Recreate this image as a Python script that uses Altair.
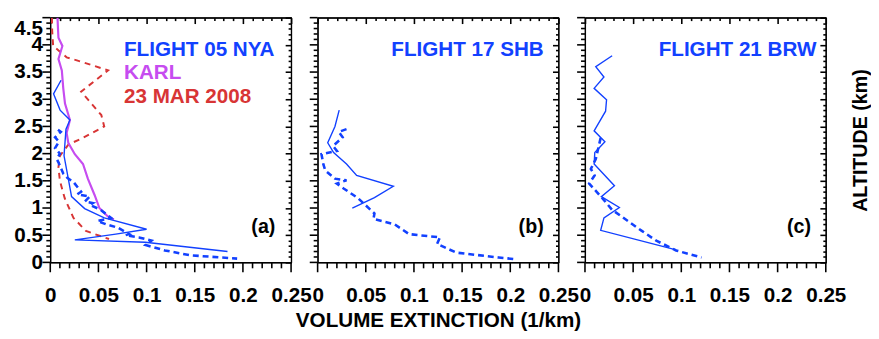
import altair as alt
import pandas as pd

# ---------------- data ----------------
# Panel (a) FLIGHT 05 NYA
a_red_ext = [0.0017, 0.002, 0.003, 0.017, 0.034, 0.060, 0.032, 0.053, 0.056, 0.034, 0.019, 0.010, 0.0085, 0.010, 0.015, 0.024, 0.037, 0.051, 0.061]
a_red_alt = [4.5, 4.25, 3.98, 3.77, 3.68, 3.53, 3.14, 2.71, 2.50, 2.29, 2.17, 1.96, 1.75, 1.5, 1.18, 0.82, 0.58, 0.49, 0.43]

a_karl_ext = [0.0075, 0.0080, 0.0085, 0.0126, 0.0085, 0.012, 0.0135, 0.0153, 0.0204, 0.017, 0.0187, 0.0255, 0.034, 0.039, 0.046, 0.051, 0.0595, 0.066]
a_karl_alt = [4.5, 4.3, 4.13, 3.98, 3.74, 3.53, 3.2, 2.92, 2.62, 2.38, 2.2, 1.99, 1.81, 1.54, 1.24, 1.0, 0.85, 0.79]

a_solid_ext = [0.0112, 0.0034, 0.0102, 0.0204, 0.0163, 0.0143, 0.0187, 0.0221, 0.0357, 0.0561, 0.100, 0.068, 0.0255, 0.0986, 0.184]
a_solid_alt = [3.35, 3.10, 2.80, 2.62, 2.45, 1.96, 1.54, 1.21, 0.99, 0.82, 0.61, 0.52, 0.415, 0.37, 0.20]

a_dash_ext = [0.008, 0.011, 0.005, 0.009, 0.005, 0.010, 0.0068, 0.0085, 0.0136, 0.018, 0.024, 0.032, 0.028, 0.041, 0.036, 0.044, 0.041, 0.052, 0.063, 0.049, 0.058, 0.070, 0.082, 0.078, 0.092, 0.105, 0.099, 0.119, 0.146, 0.194]
a_dash_alt = [2.44, 2.40, 2.30, 2.22, 2.10, 2.00, 1.90, 1.84, 1.63, 1.55, 1.48, 1.30, 1.25, 1.21, 1.12, 1.09, 1.06, 0.97, 0.82, 0.76, 0.70, 0.64, 0.52, 0.50, 0.46, 0.40, 0.32, 0.22, 0.13, 0.07]

# Panel (b) FLIGHT 17 SHB
b_solid_ext = [0.0224, 0.018, 0.0105, 0.0166, 0.030, 0.0405, 0.0786, 0.059, 0.036]
b_solid_alt = [2.8, 2.5, 2.2, 2.02, 1.81, 1.6, 1.4, 1.19, 1.0]
b_dash_ext = [0.030, 0.022, 0.026, 0.016, 0.020, 0.004, 0.006, 0.008, 0.018, 0.030, 0.020, 0.027, 0.042, 0.059, 0.058, 0.080, 0.095, 0.127, 0.124, 0.144, 0.188, 0.205]
b_dash_alt = [2.45, 2.40, 2.30, 2.14, 2.05, 1.99, 1.80, 1.69, 1.54, 1.51, 1.45, 1.36, 1.18, 0.90, 0.80, 0.70, 0.52, 0.46, 0.34, 0.18, 0.09, 0.06]

# Panel (c) FLIGHT 21 BRW
c_solid_ext = [0.0282, 0.0112, 0.0197, 0.0095, 0.0224, 0.0214, 0.0095, 0.0207, 0.0102, 0.0095, 0.0306, 0.017, 0.0357, 0.0197, 0.0163, 0.0776, 0.0946]
c_solid_alt = [3.8, 3.6, 3.41, 3.2, 2.99, 2.78, 2.42, 2.22, 2.02, 1.81, 1.41, 1.21, 1.01, 0.82, 0.59, 0.31, 0.23]
c_dash_ext = [0.0163, 0.0112, 0.0061, 0.010, 0.0044, 0.018, 0.028, 0.047, 0.059, 0.074, 0.0946, 0.121]
c_dash_alt = [2.29, 1.90, 1.72, 1.60, 1.45, 1.18, 0.97, 0.73, 0.58, 0.40, 0.22, 0.09]

panel_titles = ["FLIGHT 05 NYA", "FLIGHT 17 SHB", "FLIGHT 21 BRW"]
panel_tags = ["(a)", "(b)", "(c)"]
extra_labels = ["KARL", "23 MAR 2008"]

x_major = [0, 0.05, 0.1, 0.15, 0.2, 0.25]
x_minor = [round(i * 0.01, 2) for i in range(26) if i % 5]
y_major = [0, 0.5, 1, 1.5, 2, 2.5, 3, 3.5, 4, 4.5]
y_minor = [round(i * 0.1, 1) for i in range(46) if i % 5]

BLUE = "#1241ff"
MAGENTA = "#c64cf0"
RED = "#d83535"
FONT = "Liberation Sans"
LW = 1.2
TW = 1.6

W = 245
H = 249

XS = alt.Scale(domain=[0, 0.25], nice=False, zero=False)
YS = alt.Scale(domain=[0, 4.5], nice=False, zero=False)


def df(ext, alt_):
    return pd.DataFrame({"ext": ext, "alt": alt_, "i": list(range(len(ext)))})


def line(data, color, width, dash=None):
    kw = dict(color=color, strokeWidth=width, clip=True)
    if dash:
        kw["strokeDash"] = dash
    return alt.Chart(data).mark_line(**kw).encode(
        x=alt.X("ext:Q", scale=XS, axis=None),
        y=alt.Y("alt:Q", scale=YS, axis=None),
        order="i:Q",
    )


def xticks(values, y0, y1):
    return alt.Chart(pd.DataFrame({"v": values})).mark_rule(
        color="black", strokeWidth=TW
    ).encode(x=alt.X("v:Q", scale=XS, axis=None), y=alt.value(y0), y2=alt.value(y1))


def yticks(values, x0, x1):
    return alt.Chart(pd.DataFrame({"v": values})).mark_rule(
        color="black", strokeWidth=TW
    ).encode(y=alt.Y("v:Q", scale=YS, axis=None), x=alt.value(x0), x2=alt.value(x1))


HIDE = dict(grid=False, domain=False, ticks=True, tickOpacity=0)
TICKS = dict(grid=False, domain=False, ticks=True, tickColor="black", tickWidth=TW,
             labels=False, title=None)
FRAME = dict(grid=False, ticks=False, domain=True, domainColor="black",
             domainWidth=LW, labels=False, title=None)


def axis_layers(data, show_ylabels, xtitle, ytitle):
    base = alt.Chart(data).mark_point(opacity=0)
    bottom = dict(orient="bottom", values=x_major, tickSize=10, labelFlush=False,
                  labelPadding=13, labelFont=FONT, labelFontSize=21,
                  labelFontWeight="bold", labelColor="black", format="~g",
                  labelOverlap=False, **HIDE)
    if xtitle:
        bottom.update(title=xtitle, titleFont=FONT, titleFontSize=21,
                      titleFontWeight="bold", titleColor="black", titlePadding=4)
    else:
        bottom.update(title=None)
    left = dict(orient="left", values=y_major, tickSize=8, title=None, **HIDE)
    if show_ylabels:
        left.update(labels=True, labelPadding=0, labelFont=FONT, labelFontSize=21,
                    labelFontWeight="bold", labelColor="black", format="~g",
                    labelOverlap=False,
                    labelBaseline={"condition": {"test": "datum.value == 4.5", "value": "top"},
                                   "value": "middle"})
    else:
        left.update(labels=False)
    l1 = base.encode(
        x=alt.X("ext:Q", scale=XS, axis=alt.Axis(**bottom)),
        y=alt.Y("alt:Q", scale=YS, axis=alt.Axis(**left)),
    )
    layers = [l1]
    if ytitle:
        right = dict(orient="right", values=y_major, tickSize=6, offset=-6, labels=False,
                     title=ytitle, titleFont=FONT, titleFontSize=20,
                     titleFontWeight="bold", titleColor="black", titleAngle=270,
                     titleBaseline="top", titlePadding=25, **HIDE)
        layers.append(base.encode(
            y=alt.Y("alt:Q", scale=YS, axis=alt.Axis(**right)),
        ))
    # frame lines (axis domains on all four sides)
    layers.append(base.encode(
        x=alt.X("ext:Q", scale=XS, axis=alt.Axis(orient="bottom", **FRAME)),
        y=alt.Y("alt:Q", scale=YS, axis=alt.Axis(orient="left", **FRAME)),
    ))
    layers.append(base.encode(
        x=alt.X("ext:Q", scale=XS, axis=alt.Axis(orient="top", **FRAME)),
        y=alt.Y("alt:Q", scale=YS, axis=alt.Axis(orient="right", **FRAME)),
    ))
    # inward ticks on top/right drawn by axes
    layers.append(base.encode(
        x=alt.X("ext:Q", scale=XS, axis=alt.Axis(orient="top", values=x_major, tickSize=6,
                                                  offset=-6, **TICKS)),
        y=alt.Y("alt:Q", scale=YS, axis=alt.Axis(orient="right", values=y_major, tickSize=6,
                                                  offset=-6, **TICKS)),
    ))
    layers.append(base.encode(
        x=alt.X("ext:Q", scale=XS, axis=alt.Axis(orient="top", values=x_minor, tickSize=3,
                                                  offset=-3, **TICKS)),
        y=alt.Y("alt:Q", scale=YS, axis=alt.Axis(orient="right", values=y_minor, tickSize=3,
                                                  offset=-3, **TICKS)),
    ))
    # outward ticks on bottom/left placed through the scales
    layers += [
        xticks(x_major, H, H + 10),
        xticks(x_minor, H, H + 6),
        yticks(y_major, -8, 0),
        yticks(y_minor, -4, 0),
    ]
    return layers


def text(label, color, x, y, align="left", size=21):
    return alt.Chart(pd.DataFrame({"t": [label]})).mark_text(
        align=align, baseline="alphabetic", font=FONT, fontSize=size,
        fontWeight="bold", color=color,
    ).encode(x=alt.value(x), y=alt.value(y), text="t:N")


da_red = df(a_red_ext, a_red_alt)
da_karl = df(a_karl_ext, a_karl_alt)
da_solid = df(a_solid_ext, a_solid_alt)
da_dash = df(a_dash_ext, a_dash_alt)

panel_a = alt.layer(
    *axis_layers(da_solid, True, None, None),
    line(da_red, RED, 2, [6, 5]),
    line(da_karl, MAGENTA, 2.2),
    line(da_dash, BLUE, 2.6, [6, 4]),
    line(da_solid, BLUE, 1.4),
    text(panel_titles[0], BLUE, 75, 39),
    text(extra_labels[0], MAGENTA, 75, 62),
    text(extra_labels[1], RED, 75, 87),
    text(panel_tags[0], "black", 229, 219, align="right", size=20),
).resolve_axis(x="independent", y="independent").properties(width=W, height=H)

db_solid = df(b_solid_ext, b_solid_alt)
db_dash = df(b_dash_ext, b_dash_alt)
panel_b = alt.layer(
    *axis_layers(db_solid, False, "VOLUME EXTINCTION  (1/km)", None),
    line(db_dash, BLUE, 2.6, [6, 4]),
    line(db_solid, BLUE, 1.4),
    text(panel_titles[1], BLUE, 75, 39),
    text(panel_tags[1], "black", 230, 219, align="right", size=20),
).resolve_axis(x="independent", y="independent").properties(width=W, height=H)

dc_solid = df(c_solid_ext, c_solid_alt)
dc_dash = df(c_dash_ext, c_dash_alt)
panel_c = alt.layer(
    *axis_layers(dc_solid, False, None, "ALTITUDE (km)"),
    line(dc_dash, BLUE, 2.6, [6, 4]),
    line(dc_solid, BLUE, 1.4),
    text(panel_titles[2], BLUE, 75, 39),
    text(panel_tags[2], "black", 230, 219, align="right", size=20),
).resolve_axis(x="independent", y="independent").properties(width=W, height=H)

chart = alt.hconcat(panel_a, panel_b, panel_c, spacing=27, bounds="flush").properties(
    padding={"left": 5, "top": 5, "right": 0, "bottom": 0},
    background="white",
).configure_view(stroke="black", strokeWidth=LW)

chart.save("out.html", embed_options={"renderer": "svg", "actions": False})
